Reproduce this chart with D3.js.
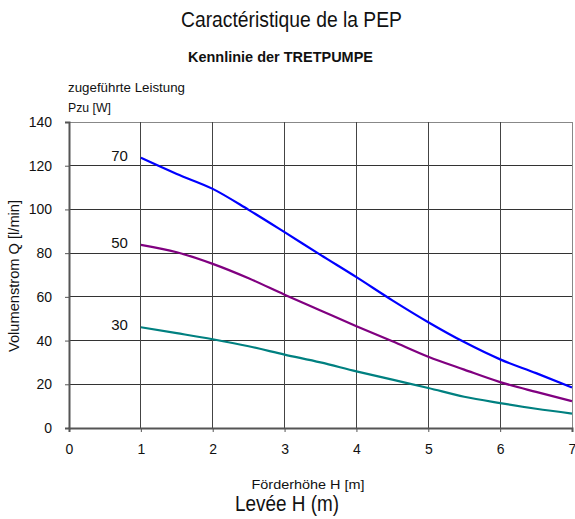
<!DOCTYPE html>
<html><head><meta charset="utf-8">
<script src="https://cdn.jsdelivr.net/npm/d3@7"></script>
<style>body{margin:0;background:#fff}svg text{font-family:"Liberation Sans",Arial,sans-serif;fill:#111}</style>
</head><body><svg id="c" width="575" height="519"></svg>
<script>
const hValues = [1,1.5,2,2.5,3,3.5,4,4.5,5,5.5,6,6.5,7];
const q70 = [123.6,116.2,109.4,99.8,89.6,79.2,69,58.4,48.4,39.3,31.4,25.1,18.5];
const q50 = [83.8,80.4,75.1,68.5,61,53.8,46.6,39.7,32.6,26.7,21,16.5,12.3];
const q30 = [46.1,43.4,40.6,37.4,33.6,30.0,25.9,22.1,18.3,14.3,11.4,8.8,6.6];
const seriesNames = ["70","50","30"];
const seriesColors = ["#0000FF","#800080","#008080"];
const xTicks = [0,1,2,3,4,5,6,7];
const yTicks = [0,20,40,60,80,100,120,140];

const svg = d3.select("#c");
const m = {l:69, r:3, t:122, b:91};
const W = 575, H = 519;
const x = d3.scaleLinear().domain([0,7]).range([m.l, W-m.r]);
const y = d3.scaleLinear().domain([0,140]).range([H-m.b, m.t]);

// grid
svg.append("g").selectAll("line").data(yTicks.filter(d=>d>0)).join("line")
  .attr("x1",x(0)).attr("x2",x(7)).attr("y1",d=>y(d)).attr("y2",d=>y(d))
  .attr("stroke",d=>d===140?"#888":"#333").attr("stroke-width",1).attr("shape-rendering","crispEdges");
svg.append("g").selectAll("line").data(xTicks.filter(d=>d>0)).join("line")
  .attr("x1",d=>x(d)).attr("x2",d=>x(d)).attr("y1",y(0)).attr("y2",y(140))
  .attr("stroke",d=>d===7?"#888":"#444").attr("stroke-width",1).attr("shape-rendering","crispEdges");

// axes
const ya = svg.append("g").attr("transform",`translate(${x(0)},0)`)
  .call(d3.axisLeft(y).tickValues(yTicks).tickSize(4).tickPadding(13).tickFormat(d3.format("d")));
const xa = svg.append("g").attr("transform",`translate(0,${y(0)})`)
  .call(d3.axisBottom(x).tickValues(xTicks).tickSize(4).tickPadding(12).tickFormat(d3.format("d")));
[ya,xa].forEach(a=>{
  a.select(".domain").attr("stroke","#555").attr("stroke-width",2);
  a.selectAll(".tick line").attr("stroke","#555").attr("stroke-width",1);
  a.selectAll(".tick text").attr("font-size",14).attr("fill","#111")
   .attr("font-family","'Liberation Sans',Arial,sans-serif");
});

// lines
const line = d3.line().x((d,i)=>x(hValues[i])).y(d=>y(d)).curve(d3.curveMonotoneX);
[q70,q50,q30].forEach((s,k)=>{
  svg.append("path").datum(s).attr("d",line).attr("fill","none")
    .attr("stroke",seriesColors[k]).attr("stroke-width",2.2);
  svg.append("text").attr("x",x(1)-13).attr("y",y(s[0])+3)
    .attr("text-anchor","end").attr("font-size",15).text(seriesNames[k]);
});

// texts (reference type is slightly condensed: fit widths with textLength)
function label(tx, ty, str, size, len, opts={}) {
  const t = svg.append("text").attr("x",tx).attr("y",ty)
    .attr("font-size",size).attr("text-anchor",opts.anchor||"start")
    .attr("textLength",len).attr("lengthAdjust","spacingAndGlyphs").text(str);
  if (opts.bold) t.attr("font-weight","bold");
  if (opts.rotate) t.attr("transform",`rotate(-90,${tx},${ty})`);
  return t;
}
label(291.5, 27, "Caractéristique de la PEP", 22.5, 221, {anchor:"middle"});
label(280.5, 61.5, "Kennlinie der TRETPUMPE", 15, 185, {anchor:"middle", bold:true});
label(68, 92, "zugeführte Leistung", 13.5, 117);
label(68, 111.5, "Pzu [W]", 13.5, 43);
label(19, 276, "Volumenstrom Q [l/min]", 14.5, 152, {anchor:"middle", rotate:true});
label(308, 489, "Förderhöhe H [m]", 13.5, 113, {anchor:"middle"});
label(287, 511, "Levée H (m)", 21.5, 104, {anchor:"middle"});
</script></body></html>
